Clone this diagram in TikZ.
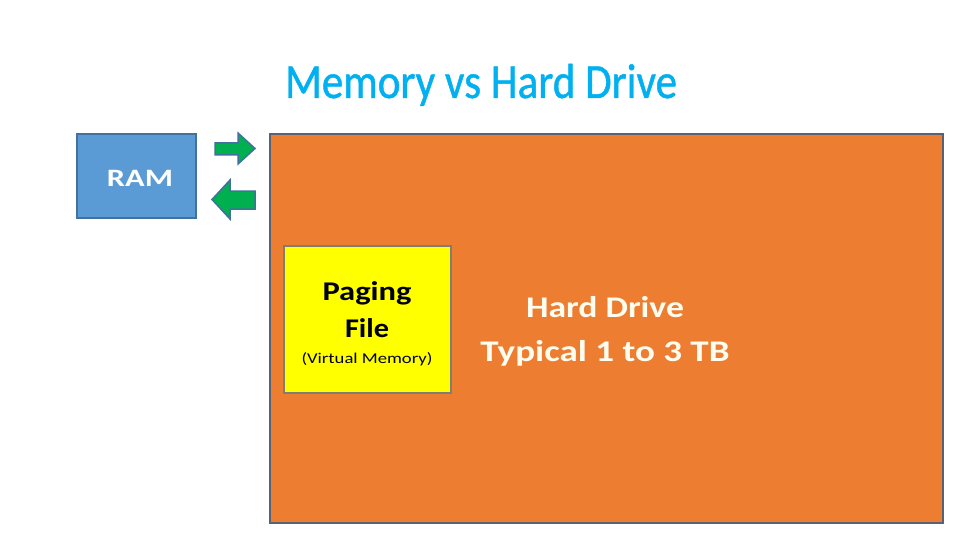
\documentclass[tikz,border=0pt]{standalone}
\usepackage{fontspec}
\setmainfont{Carlito}
\usepackage{graphicx}
\definecolor{titleblue}{HTML}{00B0F0}
\definecolor{ramblue}{HTML}{5B9BD5}
\definecolor{ramedge}{HTML}{41719C}
\definecolor{hdorange}{HTML}{ED7D31}
\definecolor{hdedge}{HTML}{596273}
\definecolor{pageyellow}{HTML}{FFFF00}
\definecolor{pageedge}{HTML}{7F7F70}
\definecolor{arrowgreen}{HTML}{00B050}
\definecolor{hdtext}{HTML}{FFFDF0}
\tikzset{
  panel/.style={draw, line width=2pt, inner sep=0pt, rectangle},
  lbl/.style={anchor=base, inner sep=0pt},
  blockarrow/.style={fill=arrowgreen, draw=ramedge, line width=1.5pt, line join=miter}
}
\begin{document}
\begin{tikzpicture}[x=1pt,y=-1pt]
\useasboundingbox (0,0) rectangle (960,540);
\fill[white] (0,0) rectangle (960,540);
% title
\node[lbl, text=titleblue] (title) at (481,98)
  {\resizebox{392pt}{\height}{\fontsize{49}{58}\selectfont\addfontfeatures{FakeBold=1}Memory vs Hard Drive}};
% boxes
\node[panel, fill=ramblue, draw=ramedge, minimum width=119, minimum height=84] (ram) at (136.5,176) {};
\node[panel, fill=hdorange, draw=hdedge, minimum width=673, minimum height=389] (hd) at (606.5,328.5) {};
\node[panel, fill=pageyellow, draw=pageedge, minimum width=167, minimum height=147] (page) at (367.5,319.5) {};
% arrows
\draw[blockarrow] (215,143) -- (238,143) -- (238,133) -- (255,148.5) -- (238,164) -- (238,155) -- (215,155) -- cycle;
\draw[blockarrow] (255,191) -- (230,191) -- (230,180) -- (212,199.5) -- (230,219) -- (230,209) -- (255,209) -- cycle;
% labels
\node[lbl, text=white] (ramlabel) at (140,186)
  {\resizebox{66pt}{\height}{\fontsize{25}{30}\selectfont\bfseries RAM}};
\node[lbl] (pagelabelA) at (367,300)
  {\resizebox{89pt}{\height}{\fontsize{27}{32}\selectfont\bfseries Paging}};
\node[lbl] (pagelabelB) at (367,337)
  {\resizebox{44pt}{\height}{\fontsize{27}{32}\selectfont\bfseries File}};
\node[lbl] (pagelabelC) at (367,363)
  {\resizebox{131pt}{\height}{\fontsize{15}{18}\selectfont (Virtual Memory)}};
\node[lbl, text=hdtext] (hdlabelA) at (605,317)
  {\resizebox{158pt}{\height}{\fontsize{30}{36}\selectfont\bfseries Hard Drive}};
\node[lbl, text=hdtext] (hdlabelB) at (605,361)
  {\resizebox{249pt}{\height}{\fontsize{30}{36}\selectfont\bfseries Typical 1 to 3 TB}};
\end{tikzpicture}
\end{document}
